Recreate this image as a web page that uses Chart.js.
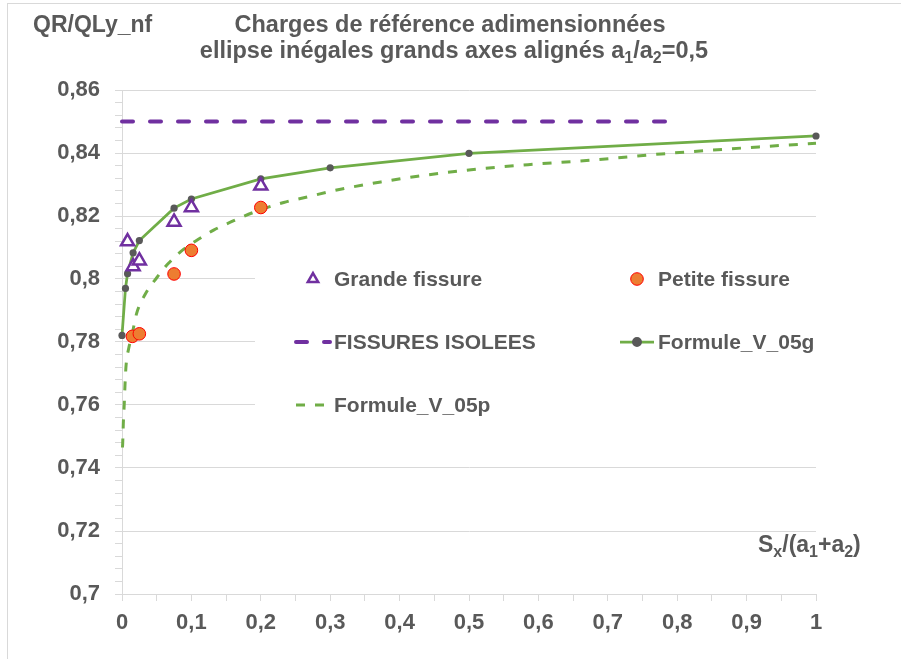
<!DOCTYPE html>
<html>
<head>
<meta charset="utf-8">
<script src="https://cdn.jsdelivr.net/npm/chart.js@4.4.1/dist/chart.umd.min.js"></script>
<style>
  body { margin: 0; background: #fff; }
  canvas { display: block; }
</style>
</head>
<body>
<canvas id="chart" width="901" height="659"></canvas>
<script>
// values
const grandeX = [0.008, 0.016, 0.025, 0.075, 0.1, 0.2];
const grandeY = [0.8119, 0.8040, 0.8058, 0.8181, 0.8227, 0.8296];

const petiteX = [0.015, 0.025, 0.075, 0.1, 0.2];
const petiteY = [0.7818, 0.7826, 0.8016, 0.8091, 0.8227];

const isoleesX = [0, 0.8];
const isoleesY = [0.85, 0.85];

const v05gX = [0, 0.005, 0.008, 0.016, 0.025, 0.075, 0.1, 0.2, 0.3, 0.5, 1];
const v05gY = [0.7821, 0.7970, 0.8017, 0.8083, 0.8122, 0.8225, 0.8254, 0.8318, 0.8353, 0.8399, 0.8454];

const v05pX = [0.0007, 0.001, 0.0019, 0.0033, 0.0043, 0.0058, 0.0097, 0.014, 0.021, 0.033, 0.05, 0.067,
               0.089, 0.11, 0.132, 0.161, 0.19, 0.233, 0.262, 0.315, 0.373, 0.426, 0.503, 0.585,
               0.681, 0.777, 0.922, 1];
const v05pY = [0.7465, 0.7478, 0.7542, 0.7606, 0.7663, 0.7724, 0.778, 0.7818, 0.789, 0.795, 0.8004, 0.805,
               0.8095, 0.8126, 0.8155, 0.8185, 0.8212, 0.8243, 0.8258, 0.8285, 0.8308, 0.8326, 0.8347, 0.8363,
               0.8378, 0.8397, 0.842, 0.8431];

const seriesNames = ['Grande fissure', 'Petite fissure', 'FISSURES ISOLEES', 'Formule_V_05g', 'Formule_V_05p'];

const xMin = 0, xMax = 1, xStep = 0.05, xLabelEvery = 2;
const yMin = 0.7, yMax = 0.86, yStep = 0.004, yLabelEvery = 5;

const FONT = '"Liberation Sans", Arial, sans-serif';
const GREY = '#595959';
const GRID = '#d9d9d9';

const pts = (xs, ys) => xs.map((x, i) => ({x: x, y: ys[i]}));
const fmt = v => String(+v.toFixed(3)).replace('.', ',');

function tickList(min, max, step, every) {
  const n = Math.round((max - min) / step);
  const out = [];
  for (let i = 0; i <= n; i++) out.push({value: +(min + i * step).toFixed(4), big: i % every === 0});
  return out;
}

function richText(ctx, parts, x, y, size, align) {
  const sub = Math.round(size * 0.68);
  let w = 0;
  parts.forEach(p => {
    ctx.font = 'bold ' + (p[1] ? sub : size) + 'px ' + FONT;
    w += ctx.measureText(p[0]).width;
  });
  let cx = align === 'center' ? x - w / 2 : x;
  parts.forEach(p => {
    ctx.font = 'bold ' + (p[1] ? sub : size) + 'px ' + FONT;
    ctx.fillText(p[0], cx, p[1] ? y + size * 0.22 : y);
    cx += ctx.measureText(p[0]).width;
  });
}

const legendPos = [[313, 279], [637, 279], [313, 342], [637, 342], [313, 405]];

const decorPlugin = {
  id: 'decor',
  afterDraw(chart) {
    const ctx = chart.ctx;
    ctx.save();
    // outer frame
    ctx.strokeStyle = GRID;
    ctx.lineWidth = 1;
    ctx.strokeRect(7.5, 3.5, 910, 670);

    ctx.fillStyle = GREY;
    ctx.textAlign = 'left';
    ctx.textBaseline = 'alphabetic';
    richText(ctx, [['QR/QLy_nf']], 33, 32, 23, 'left');
    richText(ctx, [['Charges de référence adimensionnées']], 450, 32, 23.5, 'center');
    richText(ctx, [['ellipse inégales grands axes alignés a'], ['1', true], ['/a'], ['2', true], ['=0,5']], 454, 58, 23.5, 'center');
    richText(ctx, [['S'], ['x', true], ['/(a'], ['1', true], ['+a'], ['2', true], [')']], 758, 552, 23, 'left');

    // legend inside the plot
    ctx.fillStyle = '#fff';
    ctx.fillRect(255, 248, 620, 192);
    chart.data.datasets.forEach((ds, i) => {
      const [cx, cy] = legendPos[i];
      ctx.save();
      if (ds.showLine) {
        ctx.strokeStyle = ds.borderColor;
        ctx.lineWidth = ds.borderWidth;
        ctx.lineCap = ds.borderCapStyle || 'butt';
        ctx.setLineDash(ds.borderDash || []);
        ctx.beginPath();
        ctx.moveTo(cx - 17, cy);
        ctx.lineTo(cx + 17, cy);
        ctx.stroke();
        ctx.setLineDash([]);
      }
      if (ds.pointRadius > 0) {
        ctx.fillStyle = ds.backgroundColor;
        ctx.strokeStyle = ds.pointBorderColor || ds.borderColor;
        ctx.lineWidth = ds.pointBorderWidth !== undefined ? ds.pointBorderWidth : ds.borderWidth;
        const r = ds.pointStyle === 'triangle' ? 6 : ds.pointRadius;
        ctx.beginPath();
        if (ds.pointStyle === 'triangle') {
          ctx.moveTo(cx, cy - r);
          ctx.lineTo(cx + r * 0.866, cy + r / 2);
          ctx.lineTo(cx - r * 0.866, cy + r / 2);
          ctx.closePath();
        } else {
          ctx.arc(cx, cy, r, 0, Math.PI * 2);
        }
        ctx.fill();
        if (ctx.lineWidth > 0) ctx.stroke();
      }
      ctx.fillStyle = GREY;
      ctx.font = 'bold 21px ' + FONT;
      ctx.textBaseline = 'middle';
      ctx.fillText(ds.label, cx + 21, cy + 1);
      ctx.restore();
    });
    ctx.restore();
  }
};

new Chart(document.getElementById('chart'), {
  type: 'scatter',
  data: {
    datasets: [
      {
        label: seriesNames[0], data: pts(grandeX, grandeY), showLine: false,
        pointStyle: 'triangle', pointRadius: 7.5, pointHoverRadius: 7.5,
        borderColor: '#7030A0', backgroundColor: '#fff', borderWidth: 2.5, clip: false
      },
      {
        label: seriesNames[1], data: pts(petiteX, petiteY), showLine: false,
        pointStyle: 'circle', pointRadius: 6.3, pointHoverRadius: 6.3,
        borderColor: '#FF0000', backgroundColor: '#ED7D31', borderWidth: 1, clip: false
      },
      {
        label: seriesNames[2], data: pts(isoleesX, isoleesY), showLine: true,
        borderColor: '#7030A0', borderWidth: 4, borderDash: [11, 17], borderCapStyle: 'round',
        pointRadius: 0, backgroundColor: '#7030A0', clip: false
      },
      {
        label: seriesNames[3], data: pts(v05gX, v05gY), showLine: true,
        borderColor: '#70AD47', borderWidth: 2.75, tension: 0,
        pointRadius: 3.6, pointHoverRadius: 3.6, pointBackgroundColor: '#595959', pointBorderColor: '#595959',
        pointBorderWidth: 0, backgroundColor: '#595959', clip: false
      },
      {
        label: seriesNames[4], data: pts(v05pX, v05pY), showLine: true,
        borderColor: '#70AD47', borderWidth: 3, borderDash: [9, 10], cubicInterpolationMode: 'monotone',
        pointRadius: 0, backgroundColor: '#70AD47', clip: false
      }
    ]
  },
  options: {
    responsive: false,
    animation: false,
    events: [],
    layout: { padding: { left: 0, top: 90, right: 85, bottom: 0 } },
    plugins: { legend: { display: false }, title: { display: false }, tooltip: { enabled: false } },
    scales: {
      x: {
        type: 'linear', min: xMin, max: xMax,
        afterBuildTicks: s => { s.ticks = tickList(xMin, xMax, xStep, xLabelEvery); },
        afterFit: s => { s.height = 65; },
        grid: { color: 'rgba(0,0,0,0)', tickColor: GRID, tickLength: 7, drawTicks: true },
        border: { color: GRID, width: 1 },
        ticks: {
          autoSkip: false, maxRotation: 0, padding: 9, color: GREY,
          font: { family: FONT, size: 22, weight: 'bold' },
          callback: (v, i, t) => t[i].big ? fmt(v) : ''
        }
      },
      y: {
        type: 'linear', min: yMin, max: yMax,
        afterBuildTicks: s => { s.ticks = tickList(yMin, yMax, yStep, yLabelEvery); },
        afterFit: s => { s.width = 122; },
        grid: {
          color: c => (c.tick && c.tick.big) ? GRID : 'rgba(0,0,0,0)',
          tickColor: GRID, tickLength: 7, drawTicks: true
        },
        border: { color: GRID, width: 1 },
        ticks: {
          autoSkip: false, padding: 15, color: GREY,
          font: { family: FONT, size: 22, weight: 'bold' },
          callback: (v, i, t) => t[i].big ? fmt(v) : ''
        }
      }
    }
  },
  plugins: [decorPlugin]
});
</script>
</body>
</html>
